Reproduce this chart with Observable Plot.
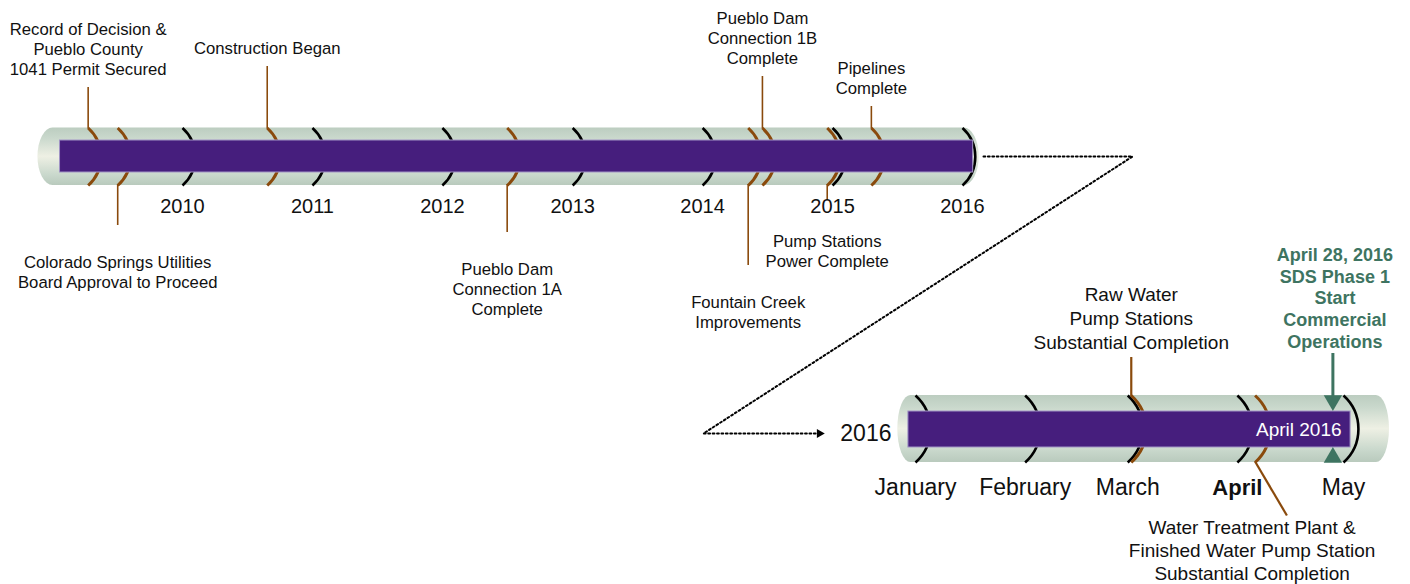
<!DOCTYPE html>
<html><head><meta charset="utf-8">
<script src="https://cdn.jsdelivr.net/npm/d3@7"></script>
<script src="https://cdn.jsdelivr.net/npm/@observablehq/plot@0.6"></script>
<style>
html,body{margin:0;padding:0;background:#fff;}
#chart{position:relative;width:1410px;height:584px;overflow:hidden;background:#fff;}
#chart svg{position:absolute;left:0;top:0;}
</style></head><body><div id="chart"></div>
<script>
// ---------------- data ----------------
const years = [2010, 2011, 2012, 2013, 2014, 2015, 2016];
const milestoneLabels = [
  "Record of Decision &\nPueblo County\n1041 Permit Secured",
  "Colorado Springs Utilities\nBoard Approval to Proceed",
  "Construction Began",
  "Pueblo Dam\nConnection 1A\nComplete",
  "Fountain Creek\nImprovements",
  "Pueblo Dam\nConnection 1B\nComplete",
  "Pump Stations\nPower Complete",
  "Pipelines\nComplete"
];
const milestoneDates = [
  "2009-04-11", "2009-07-03", "2010-08-27", "2012-07-01",
  "2014-05-09", "2014-06-18", "2014-12-17", "2015-04-20"
];
const programSpan = ["2009-01-22", "2016-01-31"];
const months = ["January", "February", "March", "April", "May"];
const monthStarts = ["2016-01-01", "2016-02-01", "2016-03-01", "2016-04-01", "2016-05-01"];
const currentMonth = "April";
const detailYear = "2016";
const periodLabel = "April 2016";
const detailSpan = ["2015-12-30", "2016-05-03"];
const detailLabels = [
  "Raw Water\nPump Stations\nSubstantial Completion",
  "Water Treatment Plant &\nFinished Water Pump Station\nSubstantial Completion"
];
const detailDates = ["2016-03-02", "2016-04-06"];
const goLiveLabel = "April 28, 2016\nSDS Phase 1\nStart\nCommercial\nOperations";
const goLiveDate = "2016-04-28";

// ---------------- layout / style ----------------
const FONT = "Liberation Sans, Arial, Helvetica, sans-serif";
const BROWN = "#8a4a0c";
const PURPLE = "#461e7d";
const GREEN = "#3e7461";
const parse = d3.utcParse("%Y-%m-%d");
const addDays = (d, n) => new Date(+d + n * 864e5);

// label placement for the overview milestones (stem end y, label block centre y)
const topLayout = [
  {stem: 87, labelY: 48},
  {stem: 225, labelY: 271},
  {stem: 66, labelY: 47},
  {stem: 232, labelY: 288},
  {stem: 265, labelY: 311},
  {stem: 76, labelY: 37},
  {stem: 200, labelY: 250},
  {stem: 106, labelY: 77}
];
const T = {y1: 127.5, y2: 185, b1: 140, b2: 172};   // overview tube
const D = {y1: 395, y2: 462, b1: 411, b2: 447};     // detail tube

const yearTicks = years.map(y => ({year: String(y), date: new Date(Date.UTC(y, 0, 1))}));
const topEvents = milestoneLabels.map((label, i) => ({label, date: parse(milestoneDates[i]), ...topLayout[i]}));
const monthTicks = months.map((m, i) => ({month: m, date: parse(monthStarts[i])}));
const detailEvents = detailLabels.map((label, i) => ({label, date: parse(detailDates[i])}));
const goLive = {label: goLiveLabel, date: parse(goLiveDate)};

const pxY = {type: "linear", domain: [0, 584], range: [0, 584]};
const base = {width: 1410, height: 584, margin: 0, style: {background: "transparent", overflow: "visible"}};

function addGradient(svg, id) {
  const defs = d3.select(svg).insert("defs", ":first-child");
  const g = defs.append("linearGradient").attr("id", id)
    .attr("x1", 0).attr("y1", 0).attr("x2", 0).attr("y2", 1);
  [[0, "#bccdc0"], [0.18, "#c9d8cc"], [0.5, "#eef0e4"], [0.82, "#c9d8cc"], [1, "#b9cabd"]]
    .forEach(([o, c]) => g.append("stop").attr("offset", o).attr("stop-color", c));
}

const arcStyle = {bend: 48, headLength: 0, strokeLinecap: "butt"};

// ---------------- overview timeline ----------------
const tubeStartA = parse("2008-11-21"), tubeEndA = parse("2016-02-17");
const plotA = Plot.plot({
  ...base,
  x: {type: "utc", domain: [yearTicks[0].date, yearTicks[yearTicks.length - 1].date], range: [182, 962], axis: null},
  y: {...pxY, axis: null},
  marks: [
    Plot.rect([0], {x1: tubeStartA, x2: tubeEndA, y1: T.y1, y2: T.y2, rx: 15, ry: 29, fill: "url(#tubeA)"}),
    Plot.arrow(yearTicks, {x1: "date", x2: "date", y1: T.y1, y2: T.y2, ...arcStyle,
      stroke: "#000", strokeWidth: 2.6}),
    Plot.arrow(topEvents, {x1: "date", x2: "date", y1: T.y1, y2: T.y2, ...arcStyle,
      stroke: BROWN, strokeWidth: 3}),
    Plot.rect([0], {x1: parse(programSpan[0]), x2: parse(programSpan[1]), y1: T.b1, y2: T.b2,
      fill: PURPLE, stroke: "#a194c6", strokeWidth: 1}),
    Plot.ruleX(topEvents, {x: "date", y1: "stem", y2: d => d.stem < T.y1 ? T.y1 + 1 : T.y2 - 1,
      stroke: BROWN, strokeWidth: 1.6}),
    Plot.text(topEvents, {x: "date", y: "labelY", text: "label", fontSize: 16.7, lineHeight: 1.2,
      fontFamily: FONT, fill: "#111"}),
    Plot.text(yearTicks, {x: "date", y: 206, text: "year", fontSize: 20, fontFamily: FONT, fill: "#111"})
  ]
});
addGradient(plotA, "tubeA");

// ---------------- detail timeline (2016) ----------------
const tubeStartD = parse("2015-12-27"), tubeEndD = parse("2016-05-14");
const plotB = Plot.plot({
  ...base,
  x: {type: "utc", domain: [monthTicks[0].date, monthTicks[monthTicks.length - 1].date], range: [915, 1343], axis: null},
  y: {...pxY, axis: null},
  marks: [
    Plot.rect([0], {x1: tubeStartD, x2: tubeEndD, y1: D.y1, y2: D.y2, rx: 13, ry: 33.5, fill: "url(#tubeB)"}),
    Plot.arrow(monthTicks, {x1: "date", x2: "date", y1: D.y1, y2: D.y2, ...arcStyle,
      stroke: "#000", strokeWidth: 2.6}),
    Plot.arrow(detailEvents, {x1: "date", x2: "date", y1: D.y1, y2: D.y2, ...arcStyle,
      stroke: BROWN, strokeWidth: 3}),
    Plot.rect([0], {x1: parse(detailSpan[0]), x2: parse(detailSpan[1]), y1: D.b1, y2: D.b2,
      fill: PURPLE, stroke: "#a194c6", strokeWidth: 1}),
    // milestone stems
    Plot.ruleX([detailEvents[0]], {x: "date", y1: 357, y2: D.y1 + 1, stroke: BROWN, strokeWidth: 2.2}),
    Plot.link([detailEvents[1]], {x1: "date", y1: D.y2 - 1, x2: d => addDays(d.date, 9), y2: 515,
      stroke: BROWN, strokeWidth: 2.2}),
    // commercial operations marker
    Plot.ruleX([goLive], {x: "date", y1: 353, y2: D.y1 + 2, stroke: GREEN, strokeWidth: 3}),
    Plot.dot([goLive], {x: "date", y: D.y1 + 5, symbol: "triangle", rotate: 180, r: 6.8, fill: GREEN, stroke: "none"}),
    Plot.dot([goLive], {x: "date", y: D.y2 - 5, symbol: "triangle", r: 6.8, fill: GREEN, stroke: "none"}),
    // texts
    Plot.text([detailEvents[0]], {x: "date", y: 317, text: "label", fontSize: 19, lineHeight: 1.24,
      fontFamily: FONT, fill: "#111"}),
    Plot.text([detailEvents[1]], {x: "date", y: 549, dx: -3, text: "label", fontSize: 19, lineHeight: 1.2,
      fontFamily: FONT, fill: "#111"}),
    Plot.text([goLive], {x: "date", y: 297, dx: 2, text: "label", fontSize: 18, lineHeight: 1.2,
      fontWeight: "bold", fontFamily: FONT, fill: GREEN}),
    Plot.text(monthTicks.filter(d => d.month !== currentMonth), {x: "date", y: 487, text: "month",
      fontSize: 23, fontFamily: FONT, fill: "#111"}),
    Plot.text(monthTicks.filter(d => d.month === currentMonth), {x: "date", y: 487, text: "month",
      fontSize: 22, fontWeight: "bold", fontFamily: FONT, fill: "#111"}),
    Plot.text([0], {x: parse(detailSpan[1]), y: 429, dx: -9, text: [periodLabel], textAnchor: "end",
      fontSize: 19, fontFamily: FONT, fill: "#fff"}),
    Plot.text([0], {x: monthTicks[0].date, y: 433, dx: -24, text: [detailYear], textAnchor: "end",
      fontSize: 23, fontFamily: FONT, fill: "#111"})
  ]
});
addGradient(plotB, "tubeB");

// ---------------- zoom connector ----------------
const plotC = Plot.plot({
  ...base,
  x: {type: "linear", domain: [0, 1410], range: [0, 1410], axis: null},
  y: {...pxY, axis: null},
  marks: [
    Plot.line([[983, 156], [1132, 156], [703, 433], [816, 433]], {
      stroke: "#000", strokeWidth: 2, strokeDasharray: "1.8,2.6", strokeLinejoin: "miter"}),
    Plot.dot([[819, 433]], {symbol: "triangle", rotate: 90, r: 3.4, fill: "#000", stroke: "none"})
  ]
});

const chart = document.getElementById("chart");
chart.append(plotA, plotB, plotC);
</script></body></html>
